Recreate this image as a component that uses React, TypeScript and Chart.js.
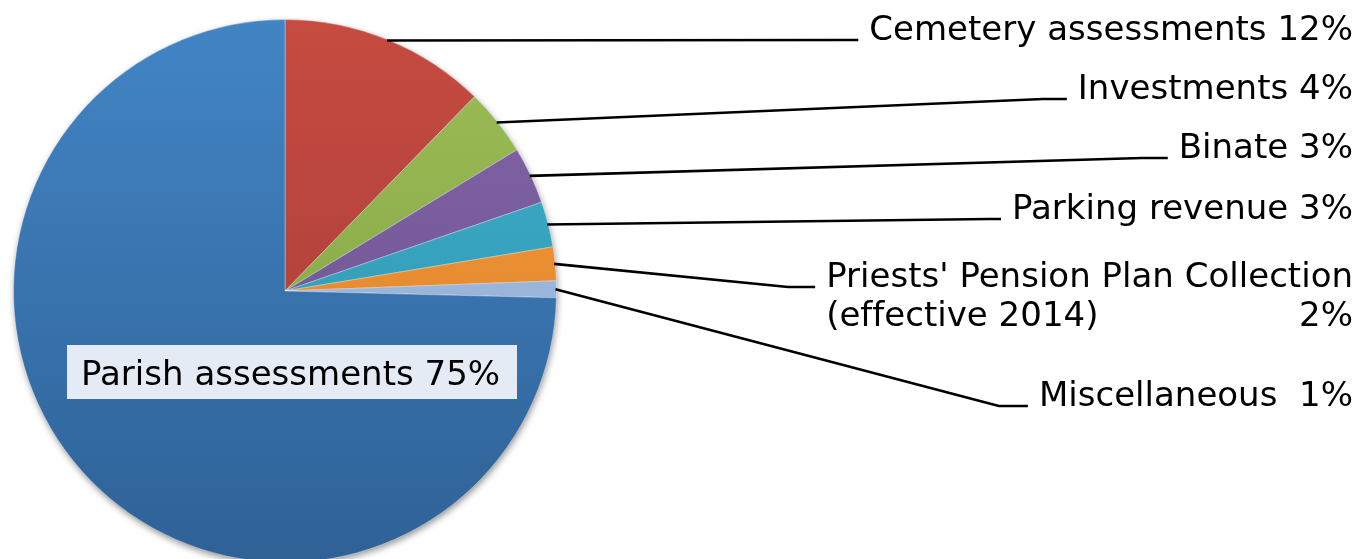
import { useEffect, useRef } from "react";
import { Chart, registerables } from "chart.js";

Chart.register(...registerables);

// ---- data ----
const categoryLines: string[][] = [
  ["Cemetery assessments"],
  ["Investments"],
  ["Binate"],
  ["Parking revenue"],
  ["Priests' Pension Plan Collection", "(effective 2014)"],
  ["Miscellaneous "],
  ["Parish assessments"],
];
const shares: number[] = [12.3, 4.0, 3.4, 2.7, 2.0, 1.0, 74.6];
const percentLabels: string[] = ["12%", "4%", "3%", "3%", "2%", "1%", "75%"];

// ---- styles ----
const topColors = ["#C64B41", "#9CBE55", "#8464A8", "#3EB1CD", "#F69A3A", "#AAC4E6", "#4285C5"];
const bottomColors = ["#A23C35", "#7E9C43", "#66508A", "#2E8FA8", "#D87E26", "#8AA6CC", "#2F6196"];

// ---- layout ----
const CANVAS_W = 1360;
const CANVAS_H = 584;
const FONT = "34px 'DejaVu Sans'";
const RIGHT_EDGE = 1353;
const labelBaselines = [40, 99, 158, 219, 287, 406];
const secondLineGap = 39;
const elbowSegments = [12, 24, 26, 12, 27, 29];

const labelPlugin = {
  id: "pieLabels",
  beforeDatasetsDraw(chart: any) {
    const arc = chart.getDatasetMeta(0).data[0];
    if (!arc) return;
    const { x, y, outerRadius } = arc.getProps(["x", "y", "outerRadius"], true);
    const ctx = chart.ctx as CanvasRenderingContext2D;
    ctx.save();
    ctx.shadowColor = "rgba(0,0,0,0.45)";
    ctx.shadowBlur = 7;
    ctx.shadowOffsetX = 1;
    ctx.shadowOffsetY = 3;
    ctx.beginPath();
    ctx.arc(x, y, outerRadius - 0.5, 0, Math.PI * 2);
    ctx.fillStyle = "#3670AA";
    ctx.fill();
    ctx.restore();
  },
  afterDatasetsDraw(chart: any) {
    const meta = chart.getDatasetMeta(0);
    const ctx = chart.ctx as CanvasRenderingContext2D;
    ctx.save();
    ctx.font = FONT;
    try {
      (ctx as any).letterSpacing = "0.01px";
    } catch (e) {}
    ctx.fillStyle = "#000";
    ctx.strokeStyle = "#000";
    ctx.lineWidth = 2.6;
    ctx.lineJoin = "round";
    ctx.textBaseline = "alphabetic";
    for (let i = 0; i < labelBaselines.length; i++) {
      const el = meta.data[i];
      const { x, y, startAngle, endAngle, outerRadius } = el.getProps(
        ["x", "y", "startAngle", "endAngle", "outerRadius"],
        true
      );
      const mid = (startAngle + endAngle) / 2;
      const ax = x + Math.cos(mid) * (outerRadius - 1);
      const ay = y + Math.sin(mid) * (outerRadius - 1);
      const lines = categoryLines[i];
      const b = labelBaselines[i];
      let left: number;
      if (lines.length === 1) {
        const text = lines[0] + " " + percentLabels[i];
        const w = ctx.measureText(text).width;
        left = RIGHT_EDGE - w;
        ctx.textAlign = "left";
        ctx.fillText(text, left, b);
      } else {
        const w = ctx.measureText(lines[0]).width;
        left = RIGHT_EDGE - w;
        ctx.textAlign = "left";
        ctx.fillText(lines[0], left, b);
        ctx.fillText(lines[1], left, b + secondLineGap);
        ctx.textAlign = "right";
        ctx.fillText(percentLabels[i], RIGHT_EDGE, b + secondLineGap);
      }
      const endX = left - 11;
      const elbowX = endX - elbowSegments[i];
      ctx.beginPath();
      ctx.moveTo(ax, ay);
      ctx.lineTo(elbowX, b);
      ctx.lineTo(endX, b);
      ctx.stroke();
    }
    // inside label for the large slice
    const big = meta.data[6];
    if (big) {
      const { x, y } = big.getProps(["x", "y"], true);
      const boxL = x - 218;
      const boxT = y + 54;
      ctx.fillStyle = "#E4EBF5";
      ctx.fillRect(boxL, boxT, 450, 54);
      ctx.fillStyle = "#000";
      ctx.textAlign = "left";
      ctx.fillText(categoryLines[6][0] + " " + percentLabels[6], boxL + 14, boxT + 40);
    }
    ctx.restore();
  },
};

export default function App() {
  const ref = useRef<HTMLCanvasElement | null>(null);
  useEffect(() => {
    if (!ref.current) return;
    const makeGrad = (ctx: any, i: number) => {
      const chart = ctx.chart;
      const area = chart.chartArea;
      if (!area) return topColors[i];
      const g = chart.ctx.createLinearGradient(0, area.top, 0, area.bottom);
      g.addColorStop(0, topColors[i]);
      g.addColorStop(1, bottomColors[i]);
      return g;
    };
    const chart = new Chart(ref.current, {
      type: "pie",
      data: {
        labels: categoryLines.map((l) => l.join(" ")),
        datasets: [
          {
            data: shares,
            backgroundColor: (c: any) => makeGrad(c, c.dataIndex),
            borderColor: "rgba(255,255,255,0.35)",
            borderWidth: 1,
          },
        ],
      },
      options: {
        responsive: false,
        animation: false,
        layout: {
          padding: { left: 13, top: 19, right: CANVAS_W - 557, bottom: CANVAS_H - 563 },
        },
        plugins: {
          legend: { display: false },
          tooltip: { enabled: false },
        },
      },
      plugins: [labelPlugin],
    });
    return () => chart.destroy();
  }, []);
  return (
    <div
      style={{
        position: "fixed",
        left: 0,
        top: 0,
        width: CANVAS_W,
        height: CANVAS_H,
        background: "#fff",
      }}
    >
      <canvas ref={ref} width={CANVAS_W} height={CANVAS_H} style={{ display: "block" }} />
    </div>
  );
}
